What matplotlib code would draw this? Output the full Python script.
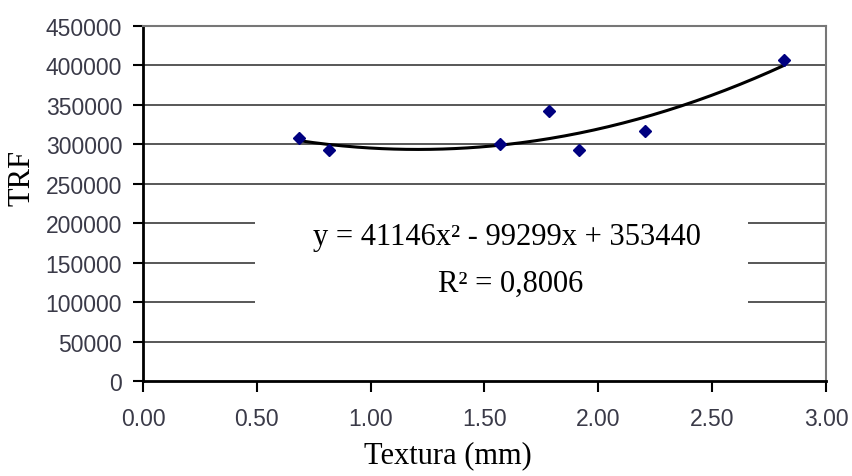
import numpy as np
import matplotlib.pyplot as plt
from matplotlib.patches import Rectangle

# Data
textura = [0.685, 0.817, 1.568, 1.783, 1.915, 2.205, 2.815]
trf = [307600, 292800, 300400, 341800, 292800, 317300, 406800]

# Trendline coefficients as printed on the chart
coef = [41146, -99299, 353440]
eq_text = "y = 41146x² - 99299x + 353440"
r2_text = "R² = 0,8006"

xticks = [0.0, 0.5, 1.0, 1.5, 2.0, 2.5, 3.0]
yticks = list(range(0, 450001, 50000))

fig = plt.figure(figsize=(8.53, 4.77), dpi=100)
ax = fig.add_axes([0.1676, 0.1992, 0.8007, 0.7442])

# Grid lines
for yv in yticks[1:]:
    ax.axhline(yv, color="#4a4a4a", lw=1.3, zorder=1)

# White box behind the trendline label
ax.add_patch(Rectangle((0.164, 0.146), 0.722, 0.381, transform=ax.transAxes,
                       facecolor="white", edgecolor="none", zorder=2))

# Trendline
xs = np.linspace(min(textura), max(textura), 200)
ax.plot(xs, np.polyval(coef, xs), color="black", lw=2.2, zorder=3)

# Points
ax.plot(textura, trf, "D", color="#000080", markersize=6.5, zorder=4,
        linestyle="none")

ax.text(0.533, 0.386, eq_text, transform=ax.transAxes, ha="center",
        va="baseline", fontsize=22, family="Liberation Serif", zorder=5)
ax.text(0.539, 0.254, r2_text, transform=ax.transAxes, ha="center",
        va="baseline", fontsize=22, family="Liberation Serif", zorder=5)

ax.set_xlim(0, 3)
ax.set_ylim(0, 450000)
ax.set_xticks(xticks)
ax.set_xticklabels([f"{v:.2f}" for v in xticks])
ax.set_yticks(yticks)
ax.set_yticklabels([str(v) for v in yticks])

for lbl in ax.get_xticklabels() + ax.get_yticklabels():
    lbl.set_family("Liberation Sans")
    lbl.set_fontsize(16.5)
    lbl.set_color("#3a3a48")

ax.tick_params(axis="x", direction="out", length=8, width=1.5, pad=11)
ax.tick_params(axis="y", direction="out", length=7, width=1.5, pad=8)

ax.spines["left"].set_linewidth(2)
ax.spines["bottom"].set_linewidth(2)
ax.spines["top"].set_color("#777777")
ax.spines["right"].set_color("#777777")
ax.spines["top"].set_linewidth(1.5)
ax.spines["right"].set_linewidth(1.5)

fig.text(0.026, 0.627, "TRF", rotation=90, ha="center", va="center",
         fontsize=22, family="Liberation Serif")
fig.text(0.525, 0.028, "Textura (mm)", ha="center", va="baseline",
         fontsize=22, family="Liberation Serif")

fig.savefig("out.png", dpi=100)
